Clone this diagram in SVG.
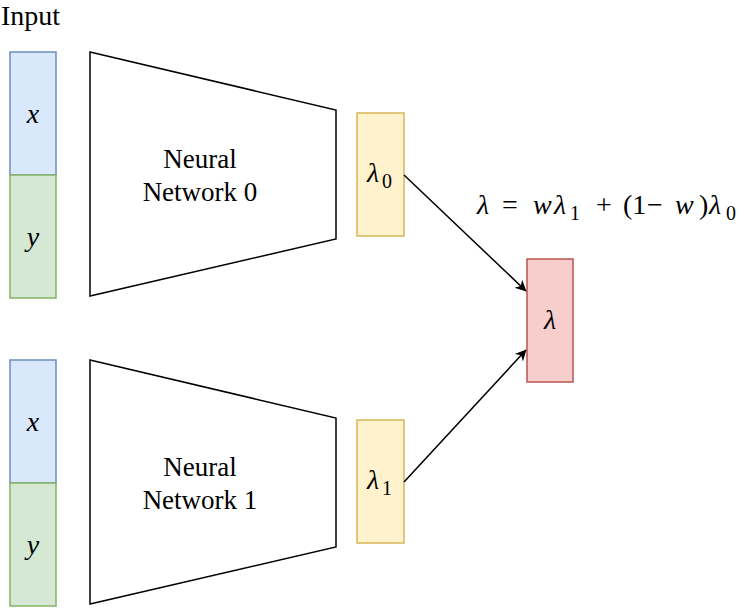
<svg xmlns="http://www.w3.org/2000/svg" width="746" height="611" viewBox="0 0 746 611">
<defs>
<style>
.t{font-family:"Liberation Serif","Times New Roman",serif;font-size:27px;fill:#000}
.m{font-family:"Liberation Serif","Times New Roman",serif;font-style:italic;font-size:28px;fill:#000}
.u{font-family:"Liberation Serif","Times New Roman",serif;font-style:normal;font-size:28px;fill:#000}
.s{font-family:"Liberation Serif","Times New Roman",serif;font-style:normal;font-size:20px;fill:#000}
.xb{fill:#dae8fc;stroke:#6c8ebf;stroke-width:1.5}
.yb{fill:#d5e8d4;stroke:#82b366;stroke-width:1.5}
.lb{fill:#fff2cc;stroke:#d6b656;stroke-width:1.5}
.rb{fill:#f8cecc;stroke:#b85450;stroke-width:1.5}
.nn{fill:#fff;stroke:#000;stroke-width:1.5}
.c{fill:none;stroke:#000;stroke-width:1.5}
</style>
<marker id="ah" viewBox="0 0 10 10" refX="9" refY="5" markerWidth="8" markerHeight="8" orient="auto" markerUnits="userSpaceOnUse" overflow="visible">
<path d="M0,0 L10,5 L0,10 L3,5 Z" fill="#000" transform="scale(1.4) translate(-3,-1.4)"/>
</marker>
</defs>
<text class="t" x="1" y="25" style="font-size:28px">Input</text>
<g id="input0">
<rect class="xb" x="10" y="52" width="46" height="123"/>
<text class="m" x="33" y="123" text-anchor="middle">x</text>
<rect class="yb" x="10" y="175" width="46" height="123"/>
<text class="m" x="33" y="246" text-anchor="middle">y</text>
</g>
<g id="input1">
<rect class="xb" x="10" y="360" width="46" height="123"/>
<text class="m" x="33" y="431" text-anchor="middle">x</text>
<rect class="yb" x="10" y="483" width="46" height="123"/>
<text class="m" x="33" y="554" text-anchor="middle">y</text>
</g>
<g id="nn0">
<path class="nn" d="M90,52 L336,110 L336,239 L90,296 Z"/>
<text class="t" x="200" y="168" text-anchor="middle">Neural</text>
<text class="t" x="200" y="201" text-anchor="middle">Network 0</text>
</g>
<g id="nn1">
<path class="nn" d="M90,360 L336,418 L336,547 L90,604 Z"/>
<text class="t" x="200" y="476" text-anchor="middle">Neural</text>
<text class="t" x="200" y="509" text-anchor="middle">Network 1</text>
</g>
<g id="lambda0">
<rect class="lb" x="357" y="113" width="47" height="123"/>
<text class="m" x="367" y="182">λ<tspan class="s" x="382" y="188">0</tspan></text>
</g>
<g id="lambda1">
<rect class="lb" x="357" y="420" width="47" height="123"/>
<text class="m" x="367" y="489">λ<tspan class="s" x="382" y="495">1</tspan></text>
</g>
<g id="lambda">
<rect class="rb" x="527" y="259" width="46" height="123"/>
<text class="m" x="550" y="329" text-anchor="middle">λ</text>
</g>
<g id="formula">
<text class="m" x="477" y="214">λ</text>
<text class="u" x="502" y="214">=</text>
<text class="m" x="533" y="214">w</text>
<text class="m" x="554" y="214">λ</text>
<text class="s" x="570" y="220">1</text>
<text class="u" x="596" y="214">+</text>
<text class="u" x="623" y="214">(1</text>
<text class="u" x="647" y="214">−</text>
<text class="m" x="675" y="214">w</text>
<text class="u" x="699" y="214">)</text>
<text class="m" x="709" y="214">λ</text>
<text class="s" x="726" y="220">0</text>
</g>
<g id="connectors">
<path class="c" d="M404,175 L526,291" marker-end="url(#ah)"/>
<path class="c" d="M404,482 L526,350" marker-end="url(#ah)"/>
</g>
</svg>
